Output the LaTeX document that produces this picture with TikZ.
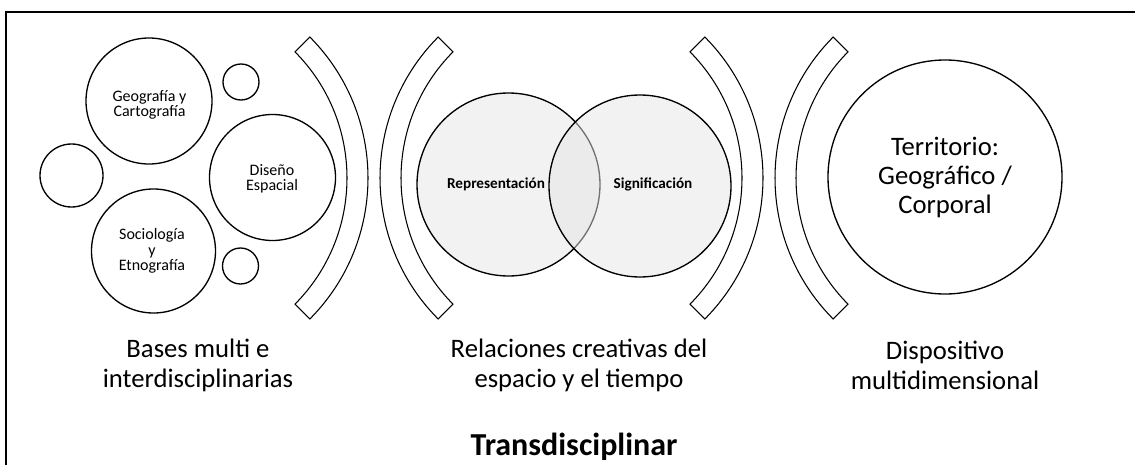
\documentclass[tikz,border=0pt]{standalone}
\usepackage{fontspec}
\setmainfont{Carlito}
\definecolor{vennfill}{RGB}{229,229,229}
\begin{document}
\begin{tikzpicture}[x=0.75pt,y=0.75pt,
  disc/.style={circle,draw=black,line width=1pt,inner sep=0pt},
  venn/.style={circle,draw=black,line width=1pt,inner sep=0pt,fill=vennfill,fill opacity=0.5,draw opacity=1},
  brk/.style={draw=black,line width=0.8pt,fill=white},
  smalltxt/.style={inner sep=0pt,align=center,font=\fontsize{12}{11.5}\selectfont},
  venntxt/.style={inner sep=0pt,font=\fontsize{11.4}{13}\selectfont\bfseries},
  bigtxt/.style={inner sep=0pt,align=center,font=\fontsize{20}{21.75}\selectfont},
  lbl/.style={inner sep=0pt,align=center,font=\fontsize{20}{22.5}\selectfont},
  titletxt/.style={inner sep=0pt,font=\fontsize{24}{28}\selectfont\bfseries}]
\useasboundingbox (0,0) rectangle (1135,-464);
% frame (cropped on the right and bottom)
\coordinate (fbl) at (6,-470);
\coordinate (ftl) at (6,-12);
\coordinate (ftr) at (1140,-12);
\draw[line width=1.5pt] (fbl) -- (ftl) -- (ftr);

% left group
\node[disc,minimum size=94.5pt] (geo) at (149,-101) {};
\node[disc,minimum size=27pt] (sm1) at (241,-82) {};
\node[disc,minimum size=47.25pt] (lm) at (71.5,-175.5) {};
\node[disc,minimum size=94.5pt] (dis) at (272.5,-177.5) {};
\node[disc,minimum size=93pt] (soc) at (153.5,-251) {};
\node[disc,minimum size=27pt] (sm2) at (240.5,-266) {};
\node[smalltxt] (geotext) at (149.5,-105) {Geografía y\\Cartografía};
\node[smalltxt] (distext) at (272,-179) {Diseño\\Espacial};
\node[smalltxt] (soctext) at (152,-251) {Sociología\\y\\Etnografía};

% brackets
\coordinate (b1) at (168,-178);
\coordinate (b2) at (580,-178);
\coordinate (b3) at (563,-178);
\coordinate (b4) at (975,-178);
\draw[brk] (b1) ++(44.8:150pt) arc[start angle=44.8,end angle=-44.8,radius=150pt] -- ++(135.2:15.75pt) arc[start angle=-44.8,end angle=44.8,radius=134.25pt] -- cycle;
\draw[brk] (b2) ++(135.2:150pt) arc[start angle=135.2,end angle=224.8,radius=150pt] -- ++(44.8:15.75pt) arc[start angle=224.8,end angle=135.2,radius=134.25pt] -- cycle;
\draw[brk] (b3) ++(44.8:150pt) arc[start angle=44.8,end angle=-44.8,radius=150pt] -- ++(135.2:15.75pt) arc[start angle=-44.8,end angle=44.8,radius=134.25pt] -- cycle;
\draw[brk] (b4) ++(135.2:150pt) arc[start angle=135.2,end angle=224.8,radius=150pt] -- ++(44.8:15.75pt) arc[start angle=224.8,end angle=135.2,radius=134.25pt] -- cycle;

% middle group (Venn)
\node[venn,minimum size=137.25pt] (rep) at (508.5,-184.5) {};
\node[venn,minimum size=136.5pt] (sig) at (640,-186) {};
\node[venntxt] (reptext) at (496,-184) {Representación};
\node[venntxt] (sigtext) at (653,-184) {Significación};

% right group
\node[disc,minimum size=175.5pt] (ter) at (945,-177) {};
\node[bigtxt] (tertext) at (945,-177) {Territorio:\\Geográfico /\\Corporal};

% labels
\node[lbl] (bases) at (198,-365) {Bases multi e\\interdisciplinarias};
\node[lbl] (rel) at (579,-365) {Relaciones creativas del\\espacio y el tiempo};
\node[lbl] (disp) at (945,-365) {Dispositivo\\multidimensional};
\node[titletxt,anchor=base] (trans) at (574,-455.5) {Transdisciplinar};
\end{tikzpicture}
\end{document}
